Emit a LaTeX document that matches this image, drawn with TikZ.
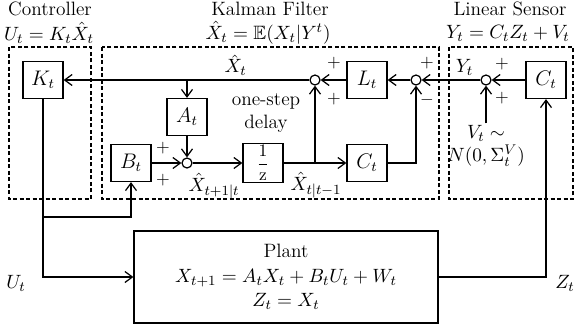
\documentclass[tikz,border=0pt]{standalone}
\usepackage{amsmath}
\usepackage{amssymb}
\usepackage{tikz}
\usetikzlibrary{arrows.meta,calc}
\usetikzlibrary{positioning}

\begin{document}
\begin{tikzpicture}[x=0.02cm,y=-0.02cm,
  >={Straight Barb[length=1.5mm,width=2.2mm]},
  every node/.style={font=\fontsize{11}{13}\selectfont,inner sep=1pt},
  bloco/.style={draw,line width=0.7pt,minimum width=0.8cm,minimum height=0.74cm,inner sep=1pt,font=\large},
  soma/.style={draw,circle,line width=0.7pt,minimum size=0.2cm,inner sep=0pt},
  caixa/.style={line width=0.6pt,dash pattern=on 2.3pt off 1.4pt},
  sinal/.style={font=\normalsize,inner sep=0.5pt},
  linha/.style={line width=0.7pt}]

\useasboundingbox (0,0) rectangle (574,332);

% caixas tracejadas
\draw[caixa] (9,47) rectangle (91,199);
\draw[caixa] (102,47) rectangle (439,199);
\draw[caixa] (449,47) rectangle (573,199);

% títulos
\node (tctrl) at (50,9) {Controller};
\node (ectrl) at (49,33) {$U_t = K_t\hat{X}_t$};
\node (tfilt) at (270,9) {Kalman Filter};
\node (efilt) at (268,33) {$\hat{X}_t = \mathbb{E}(X_t|Y^t)$};
\node (tsens) at (510,9) {Linear Sensor};
\node (esens) at (508,33) {$Y_t = C_tZ_t + V_t$};

% blocos
\node[bloco] (K) at (43,80) {$K_t$};
\node[bloco] (A) at (187,117) {$A_t$};
\node[bloco] (B) at (131,163) {$B_t$};
\node[soma] (s1) at (187,163) {};
\node[bloco,font=\normalsize] (D) at (263,163) {$\dfrac{1}{\mathrm{z}}$};
\node[bloco] (Ck) at (367,163) {$C_t$};
\node[bloco] (L) at (367,80) {$L_t$};
\node[soma] (s2) at (315,80) {};
\node[soma] (s3) at (416,80) {};
\node[soma] (s4) at (486,80) {};
\node[bloco] (Cs) at (546,80) {$C_t$};
\node[align=center] (atraso) at (266,113) {one-step\\delay};
\node[align=center] (V) at (486,146) {$V_t\sim$\\$N(0,\Sigma_t^V)$};
\node[bloco,minimum width=6.08cm,minimum height=1.84cm,font=\fontsize{11}{14}\selectfont,align=center]
  (P) at (286,277) {Plant\\$X_{t+1} = A_tX_t + B_tU_t + W_t$\\$Z_t = X_t$};

% sinais das somas
\node[sinal] (p1) at (163,148) {$+$};
\node[sinal] (p2) at (163,180) {$+$};
\node[sinal] (p3) at (334,63) {$+$};
\node[sinal] (p4) at (334,99) {$+$};
\node[sinal] (p5) at (427,63) {$+$};
\node[sinal] (p6) at (427,100) {$-$};
\node[sinal] (p7) at (502,64) {$+$};
\node[sinal] (p8) at (502,98) {$+$};

% rótulos
\node (lx1) at (214,186) {$\hat{X}_{t+1|t}$};
\node (lx2) at (316,185) {$\hat{X}_{t|t-1}$};
\node (lu) at (16,283) {$U_t$};
\node (lz) at (565,283) {$Z_t$};

% ramo superior
\draw[linha,->] (Cs) -- (s4);
\draw[linha,->] (s4) -- node[above=1pt,pos=0.27] (ly) {$Y_t$} (s3);
\draw[linha,->] (s3) -- (L);
\draw[linha,->] (L) -- (s2);
\draw[linha,->] (s2) -- node[above=1pt,pos=0.3] (lx) {$\hat{X}_t$} (K);
\draw[linha,->] (V) -- (s4);

% ramo inferior
\coordinate (ja) at (A |- K);
\draw[linha,->] (ja) -- (A);
\draw[linha,->] (A) -- (s1);
\draw[linha,->] (B) -- (s1);
\draw[linha,->] (s1) -- (D);
\draw[linha,->] (D) -- (Ck);
\coordinate (jd) at (s2 |- D);
\draw[linha,->] (jd) -- (s2);
\draw[linha,->] (Ck) -| (s3);

% planta
\coordinate (jb) at (43,217);
\draw[linha,->] (K) |- (P);
\draw[linha,->] (jb) -| (B);
\draw[linha,->] (P) -| (Cs);

\end{tikzpicture}
\end{document}
